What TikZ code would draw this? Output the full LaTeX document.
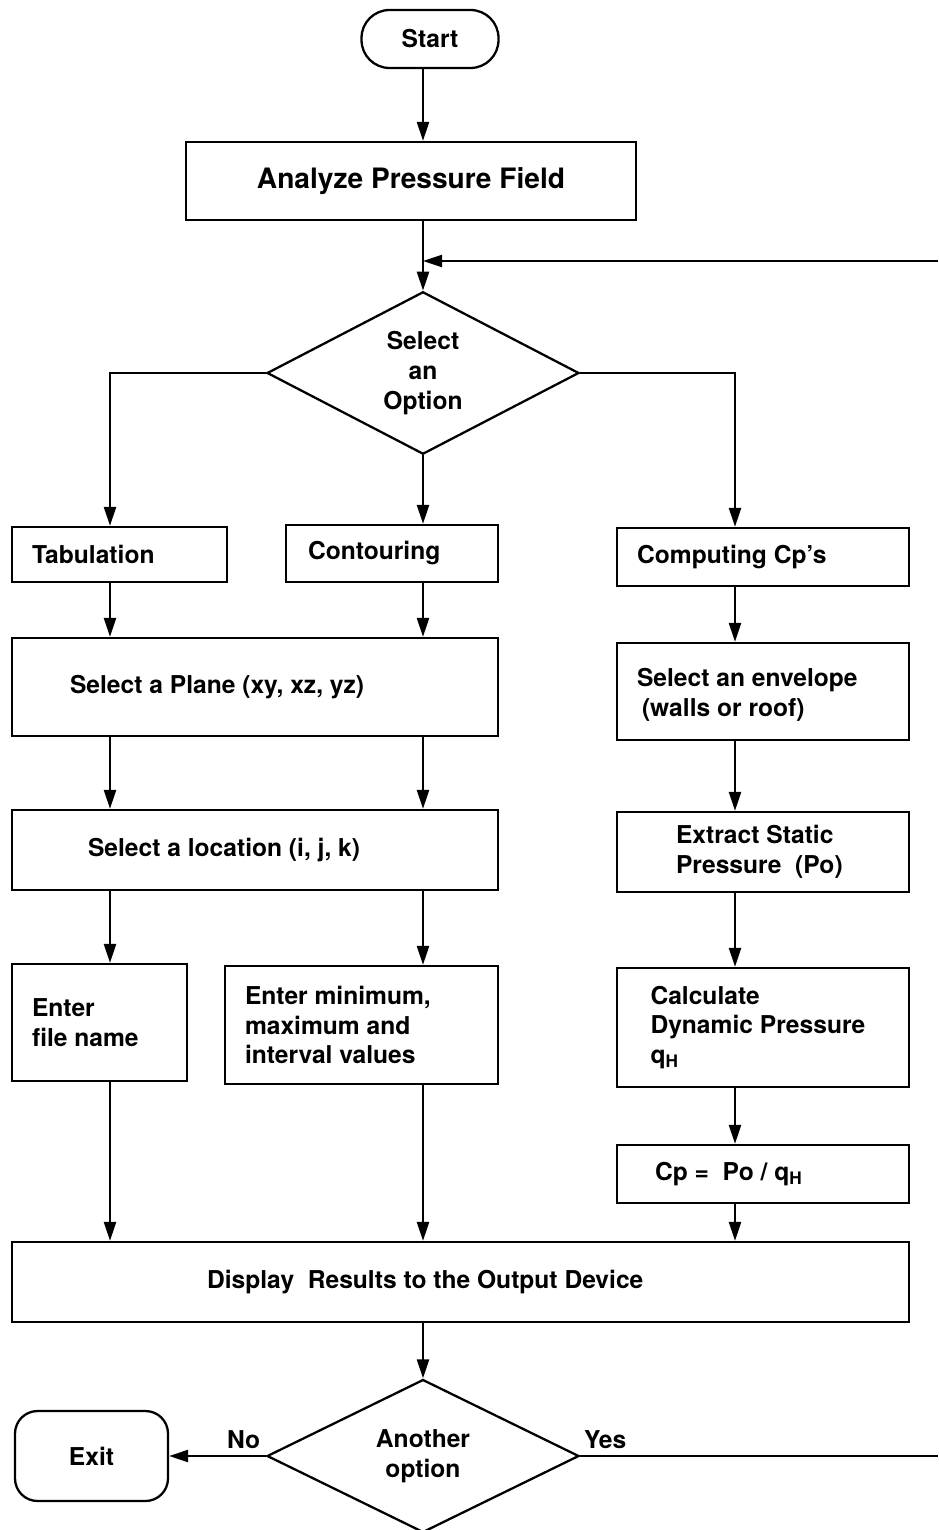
\documentclass[tikz,border=0pt]{standalone}
\usepackage{fontspec}
\setmainfont{TeX Gyre Heros}
\usetikzlibrary{arrows.meta, shapes.geometric}

\begin{document}
\begin{tikzpicture}[x=0.02cm, y=-0.02cm, line width=1.3pt,
  font=\bfseries\fontsize{14}{17}\selectfont,
  >={Triangle[length=3.8mm, width=2.4mm]},
  box/.style={draw, rectangle, inner sep=0pt},
  pbox/.style 2 args={box, text width=#1, inner xsep=#2, align=flush left},
  term/.style={draw, rectangle, rounded corners=#1, inner sep=0pt},
  decision/.style={draw, diamond, inner sep=0pt, minimum width=6.24cm, minimum height=3.06cm, align=center}]
  \useasboundingbox (0,0) rectangle (938,1530);
  % columns of the three branches
  \coordinate (colL) at (110,0);
  \coordinate (colM) at (423,0);
  \coordinate (colR) at (735,0);

  \node[term=0.56cm, minimum width=2.74cm, minimum height=1.16cm] (start) at (430,39) {Start};
  \node[box, minimum width=9cm, minimum height=1.56cm, font=\bfseries\fontsize{16}{19}\selectfont] (analyze) at (411,181) {Analyze Pressure Field};
  \node[decision] (sel) at (423,373) {Select\\an\\Option};

  \node[pbox={3.5cm}{0.4cm}, minimum height=1.1cm] (tab) at (119.5,554.5) {Tabulation};
  \node[pbox={3.36cm}{0.44cm}, minimum height=1.14cm] (cont) at (392,553.5) {Contouring};
  \node[pbox={5.04cm}{0.4cm}, minimum height=1.16cm] (comp) at (763,557) {Computing Cp's};

  \node[pbox={7.4cm}{1.16cm}, minimum height=1.96cm] (plane) at (255,687) {Select a Plane (xy, xz, yz)};
  \node[pbox={5.04cm}{0.4cm}, minimum height=1.94cm] (env) at (763,691.5) {\rule{0pt}{0.5cm}Select an envelope\\\hspace{0.1cm}(walls or roof)};

  \node[pbox={6.68cm}{1.52cm}, minimum height=1.6cm] (loc) at (255,850) {Select a location (i, j, k)};
  \node[pbox={3.48cm}{1.18cm}, minimum height=1.6cm] (stat) at (763,852) {Extract Static\\Pressure~ (Po)};

  \node[pbox={2.7cm}{0.4cm}, minimum height=2.34cm] (file) at (99.5,1022.5) {Enter\\file name};
  \node[pbox={4.66cm}{0.4cm}, minimum height=2.36cm] (minmax) at (361.5,1025) {Enter minimum,\\maximum and\\interval values};
  \node[pbox={4.5cm}{0.67cm}, minimum height=2.38cm] (dyn) at (763,1027.5) {Calculate\\Dynamic Pressure\\q\textsubscript{H}};
  \node[pbox={4.32cm}{0.76cm}, minimum height=1.16cm] (cp) at (763,1174) {Cp =~ Po / q\textsubscript{H}};

  \node[pbox={10.14cm}{3.9cm}, minimum height=1.6cm] (disp) at (460.5,1282) {Display~ Results to the Output Device};
  \node[decision] (another) at (423,1456) {Another\\option};
  \node[term=0.45cm, minimum width=3.06cm, minimum height=1.8cm] (exit) at (91.5,1456) {Exit};

  % free ends at the right edge
  \coordinate (back) at (938,261);
  \coordinate (yesend) at (938,1456);

  \draw[->] (start.south -| colM) -- (analyze.north -| colM);
  \draw[->] (analyze.south -| colM) -- (sel.north);
  \draw[->] (back) -- (back -| colM);
  \draw[->] (sel.west) -| (tab.north -| colL);
  \draw[->] (sel.south) -- (cont.north -| colM);
  \draw[->] (sel.east) -| (comp.north -| colR);

  \draw[->] (tab.south -| colL) -- (plane.north -| colL);
  \draw[->] (cont.south -| colM) -- (plane.north -| colM);
  \draw[->] (comp.south -| colR) -- (env.north -| colR);
  \draw[->] (plane.south -| colL) -- (loc.north -| colL);
  \draw[->] (plane.south -| colM) -- (loc.north -| colM);
  \draw[->] (env.south -| colR) -- (stat.north -| colR);
  \draw[->] (loc.south -| colL) -- (file.north -| colL);
  \draw[->] (loc.south -| colM) -- (minmax.north -| colM);
  \draw[->] (stat.south -| colR) -- (dyn.north -| colR);
  \draw[->] (dyn.south -| colR) -- (cp.north -| colR);

  \draw[->] (file.south -| colL) -- (disp.north -| colL);
  \draw[->] (minmax.south -| colM) -- (disp.north -| colM);
  \draw[->] (cp.south -| colR) -- (disp.north -| colR);
  \draw[->] (disp.south -| colM) -- (another.north);

  \draw[->] (another.west) -- (exit.east) node[above, pos=0.23] {No};
  \draw (another.east) -- (yesend) node[above, pos=0.07] {Yes};
\end{tikzpicture}
\end{document}
